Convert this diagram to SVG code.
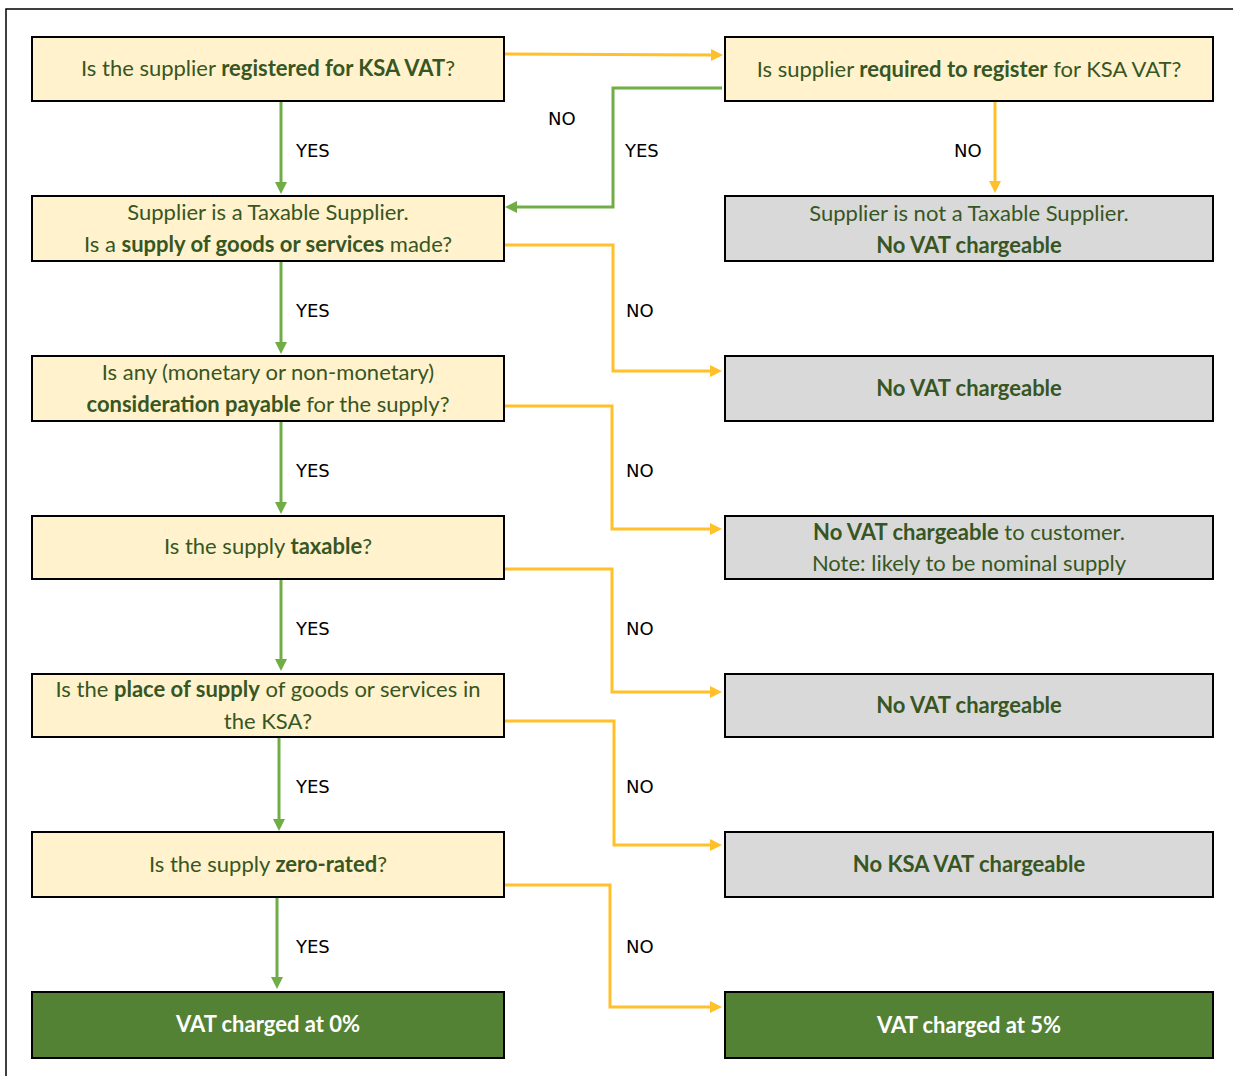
<svg xmlns="http://www.w3.org/2000/svg" width="1233" height="1076" viewBox="0 0 1233 1076">
<style>
.q{fill:#FFF2CC;stroke:#000;stroke-width:2}
.g{fill:#D9D9D9;stroke:#000;stroke-width:2}
.d{fill:#548235;stroke:#000;stroke-width:2}
.t{font-family:Lato,"Open Sans",sans-serif;font-size:22px;fill:#375623;text-anchor:middle}
.w{fill:#fff;font-weight:bold}
.b{font-weight:bold}
.lbl{font-family:"DejaVu Sans",sans-serif;font-size:18px;fill:#000}
.cg{fill:none;stroke:#70AD47;stroke-width:3;marker-end:url(#ag)}
.co{fill:none;stroke:#FFC02A;stroke-width:3;marker-end:url(#ao)}
</style>
<defs>
<marker id="ag" viewBox="0 0 12 12" refX="2" refY="6" markerWidth="12" markerHeight="12" markerUnits="userSpaceOnUse" orient="auto"><path d="M0,0 L12,6 L0,12 z" fill="#70AD47"/></marker>
<marker id="ao" viewBox="0 0 12 12" refX="2" refY="6" markerWidth="12" markerHeight="12" markerUnits="userSpaceOnUse" orient="auto"><path d="M0,0 L12,6 L0,12 z" fill="#FFC02A"/></marker>
</defs>
<rect width="1233" height="1076" fill="#fff"/>
<path d="M6,1076 L6,9 L1233,9" fill="none" stroke="#000" stroke-width="1.5"/>
<g id="connectors">
<path class="co" d="M505,54 L713,55"/>
<path class="cg" d="M722,88 L613,88 L613,207 L515,207"/>
<path class="cg" d="M281,101 L281,184"/>
<path class="co" d="M995,101 L995,183"/>
<path class="co" d="M505,245 L613,245 L613,371 L712,371"/>
<path class="cg" d="M281,261 L281,344"/>
<path class="co" d="M505,406 L612,406 L612,529 L712,529"/>
<path class="cg" d="M281,421 L281,504"/>
<path class="co" d="M505,569 L612,569 L612,692 L712,692"/>
<path class="cg" d="M281,579 L281,661"/>
<path class="co" d="M505,721 L614,721 L614,845 L712,845"/>
<path class="cg" d="M279,737 L279,821"/>
<path class="co" d="M505,885 L610,885 L610,1007 L712,1007"/>
<path class="cg" d="M277,897 L277,979"/>
<text class="lbl" x="548" y="125">NO</text>
<text class="lbl" x="296" y="157">YES</text>
<text class="lbl" x="625" y="157">YES</text>
<text class="lbl" x="954" y="157">NO</text>
<text class="lbl" x="296" y="317">YES</text>
<text class="lbl" x="626" y="317">NO</text>
<text class="lbl" x="296" y="477">YES</text>
<text class="lbl" x="626" y="477">NO</text>
<text class="lbl" x="296" y="635">YES</text>
<text class="lbl" x="626" y="635">NO</text>
<text class="lbl" x="296" y="793">YES</text>
<text class="lbl" x="626" y="793">NO</text>
<text class="lbl" x="296" y="953">YES</text>
<text class="lbl" x="626" y="953">NO</text>
</g>
<g id="n1"><rect class="q" x="32" y="37" width="472" height="64"/><text class="t" x="268" y="76">Is the supplier <tspan class="b">registered for KSA VAT</tspan>?</text></g>
<g id="n2"><rect class="q" x="725" y="37" width="488" height="64"/><text class="t" x="969" y="77">Is supplier <tspan class="b">required to register</tspan> for KSA VAT?</text></g>
<g id="n3"><rect class="q" x="32" y="196" width="472" height="65"/><text class="t" x="268" y="220">Supplier is a Taxable Supplier.</text><text class="t" x="268" y="252">Is a <tspan class="b">supply of goods or services</tspan> made?</text></g>
<g id="n4"><rect class="g" x="725" y="196" width="488" height="65"/><text class="t" x="969" y="221">Supplier is not a Taxable Supplier.</text><text class="t b" x="969" y="253">No VAT chargeable</text></g>
<g id="n5"><rect class="q" x="32" y="356" width="472" height="65"/><text class="t" x="268" y="380">Is any (monetary or non-monetary)</text><text class="t" x="268" y="412"><tspan class="b">consideration payable</tspan> for the supply?</text></g>
<g id="n6"><rect class="g" x="725" y="356" width="488" height="65"/><text class="t b" x="969" y="396">No VAT chargeable</text></g>
<g id="n7"><rect class="q" x="32" y="516" width="472" height="63"/><text class="t" x="268" y="554">Is the supply <tspan class="b">taxable</tspan>?</text></g>
<g id="n8"><rect class="g" x="725" y="516" width="488" height="63"/><text class="t" x="969" y="540"><tspan class="b">No VAT chargeable</tspan> to customer.</text><text class="t" x="969" y="571">Note: likely to be nominal supply</text></g>
<g id="n9"><rect class="q" x="32" y="674" width="472" height="63"/><text class="t" x="268" y="697">Is the <tspan class="b">place of supply</tspan> of goods or services in</text><text class="t" x="268" y="729">the KSA?</text></g>
<g id="n10"><rect class="g" x="725" y="674" width="488" height="63"/><text class="t b" x="969" y="713">No VAT chargeable</text></g>
<g id="n11"><rect class="q" x="32" y="832" width="472" height="65"/><text class="t" x="268" y="872">Is the supply <tspan class="b">zero-rated</tspan>?</text></g>
<g id="n12"><rect class="g" x="725" y="832" width="488" height="65"/><text class="t b" x="969" y="872">No KSA VAT chargeable</text></g>
<g id="n13"><rect class="d" x="32" y="992" width="472" height="66"/><text class="t w" x="268" y="1032">VAT charged at 0%</text></g>
<g id="n14"><rect class="d" x="725" y="992" width="488" height="66"/><text class="t w" x="969" y="1033">VAT charged at 5%</text></g>
</svg>
